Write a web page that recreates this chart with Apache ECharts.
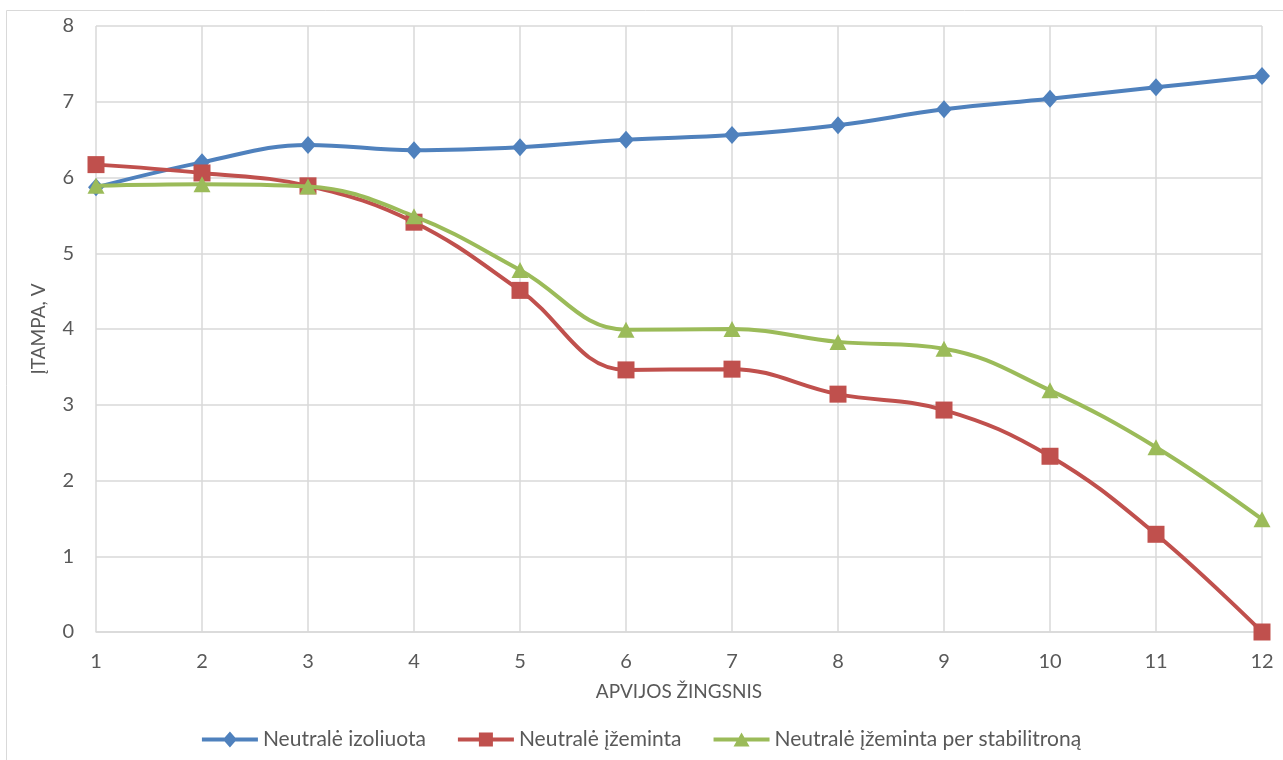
<!DOCTYPE html>
<html>
<head>
<meta charset="utf-8">
<script src="https://cdn.jsdelivr.net/npm/echarts@6/dist/echarts.min.js"></script>
<style>
  html, body { margin: 0; padding: 0; background: #fff; }
  #main { width: 1283px; height: 760px; }
</style>
</head>
<body>
<div id="main"></div>
<script>
// apvijos žingsniai
var steps = ['1', '2', '3', '4', '5', '6', '7', '8', '9', '10', '11', '12']
// įtampa, V
var izoliuota = [5.87, 6.20, 6.43, 6.36, 6.40, 6.50, 6.56, 6.69, 6.90, 7.04, 7.19, 7.34]
var izeminta = [6.17, 6.06, 5.89, 5.41, 4.51, 3.46, 3.47, 3.14, 2.93, 2.32, 1.29, 0]
var stabilitronas = [5.89, 5.91, 5.88, 5.49, 4.78, 3.99, 4.0, 3.83, 3.74, 3.19, 2.44, 1.49]
var seriesNames = ['Neutralė izoliuota', 'Neutralė įžeminta', 'Neutralė įžeminta per stabilitroną']

var font = 'Lato, "Open Sans", sans-serif'
var textColor = '#595959'
var gridColor = '#d9d9d9'

// legendos ikonos: linija su žymekliu
var bar = 'M0 6H56V10H0Z '
var iconDiamond = 'path://' + bar + 'M28 0L35 8L28 16L21 8Z'
var iconSquare = 'path://' + bar + 'M21 1H35V15H21Z'
var iconTriangle = 'path://' + bar + 'M28 1L36 15H20Z'

var chart = echarts.init(document.getElementById('main'))
var option = {
  animation: false,
  textStyle: { fontFamily: font },
  graphic: [{
    type: 'rect',
    shape: { x: 6.5, y: 10.5, width: 1300, height: 800 },
    style: { fill: 'none', stroke: gridColor, lineWidth: 1 },
    silent: true
  }],
  grid: { left: 96, right: 21, top: 26, bottom: 128 },
  legend: {
    bottom: 5,
    left: 'center',
    itemWidth: 56,
    itemHeight: 16,
    itemGap: 32,
    itemStyle: { borderWidth: 0 },
    textStyle: { color: textColor, fontSize: 21, fontFamily: font },
    data: [
      { name: seriesNames[0], icon: iconDiamond },
      { name: seriesNames[1], icon: iconSquare },
      { name: seriesNames[2], icon: iconTriangle }
    ]
  },
  xAxis: {
    type: 'category',
    boundaryGap: false,
    data: steps,
    name: 'APVIJOS ŽINGSNIS',
    nameLocation: 'middle',
    nameGap: 50,
    nameTextStyle: { color: textColor, fontSize: 19, fontFamily: font },
    axisLine: { lineStyle: { color: gridColor, width: 1.5 } },
    axisTick: { show: false },
    axisLabel: { color: textColor, fontSize: 20, margin: 20, fontFamily: font },
    splitLine: { show: true, lineStyle: { color: gridColor, width: 1.5 } }
  },
  yAxis: {
    type: 'value',
    min: 0,
    max: 8,
    interval: 1,
    name: 'ĮTAMPA, V',
    nameLocation: 'middle',
    nameGap: 48,
    nameTextStyle: { color: textColor, fontSize: 19, fontFamily: font },
    axisLine: { show: false },
    axisTick: { show: false },
    axisLabel: { color: textColor, fontSize: 20, margin: 22, fontFamily: font },
    splitLine: { lineStyle: { color: gridColor, width: 1.5 } }
  },
  series: [
    {
      name: seriesNames[0],
      type: 'line',
      data: izoliuota,
      smooth: 0.4,
      symbol: 'diamond',
      symbolSize: [16, 18],
      lineStyle: { color: '#4f81bd', width: 4 },
      itemStyle: { color: '#4f81bd' },
      z: 3
    },
    {
      name: seriesNames[1],
      type: 'line',
      data: izeminta,
      smooth: 0.4,
      symbol: 'rect',
      symbolSize: 17,
      lineStyle: { color: '#c0504d', width: 4 },
      itemStyle: { color: '#c0504d' },
      z: 4
    },
    {
      name: seriesNames[2],
      type: 'line',
      data: stabilitronas,
      smooth: 0.4,
      symbol: 'triangle',
      symbolSize: [17, 16],
      lineStyle: { color: '#9bbb59', width: 4 },
      itemStyle: { color: '#9bbb59' },
      z: 5
    }
  ]
}
chart.setOption(option)
</script>
</body>
</html>
